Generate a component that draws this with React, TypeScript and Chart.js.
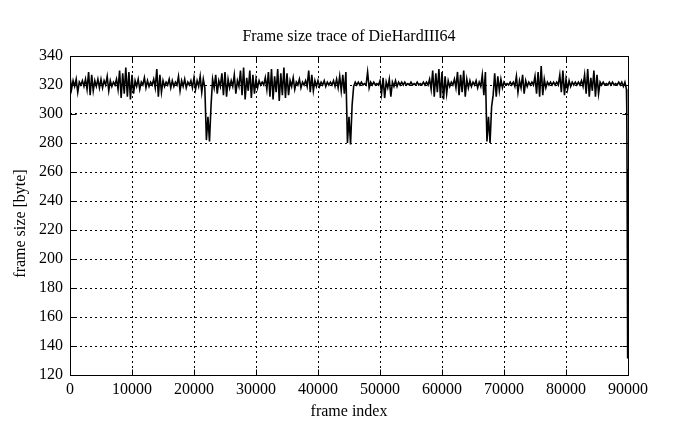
import React, { useEffect, useRef } from 'react';
import { Chart, registerables } from 'chart.js';

Chart.register(...registerables);

const chartTitle = 'Frame size trace of DieHardIII64';
const xAxisLabel = 'frame index';
const yAxisLabel = 'frame size [byte]';

const xTickValues = [0, 10000, 20000, 30000, 40000, 50000, 60000, 70000, 80000, 90000];
const yTickValues = [120, 140, 160, 180, 200, 220, 240, 260, 280, 300, 320, 340];

// frames per bin; each bin contributes a value at its start and one at its middle
const binSize = 500;

const sizeAtBinStart = [
  326, 323, 324, 322, 323, 324, 329, 327, 323, 324,
  324, 323, 326, 323, 322, 324, 330, 328, 332, 329,
  327, 323, 324, 322, 325, 323, 322, 324, 331, 327,
  323, 322, 324, 323, 322, 326, 323, 324, 322, 323,
  325, 323, 326, 324, 282, 281, 324, 327, 323, 328,
  329, 324, 323, 327, 323, 330, 332, 325, 330, 327,
  324, 323, 322, 325, 329, 331, 326, 331, 328, 332,
  328, 323, 325, 322, 324, 322, 323, 330, 327, 323,
  323, 322, 323, 322, 322, 323, 324, 326, 327, 329,
  298, 306, 322, 322, 322, 321, 329, 322, 322, 321,
  323, 325, 322, 324, 322, 323, 322, 322, 322, 321,
  322, 321, 322, 321, 322, 322, 324, 330, 328, 331,
  329, 326, 323, 322, 324, 329, 327, 330, 324, 323,
  322, 323, 322, 327, 329, 298, 305, 328, 326, 324,
  322, 321, 322, 322, 326, 323, 327, 323, 322, 322,
  326, 329, 333, 324, 322, 322, 322, 322, 327, 330,
  324, 323, 322, 322, 322, 323, 327, 331, 325, 330,
  327, 322, 322, 321, 322, 322, 321, 322, 322, 322,
];

const sizeAtBinMid = [
  317, 319, 315, 320, 319, 317, 313, 316, 319, 318,
  318, 320, 316, 319, 320, 317, 311, 314, 312, 310,
  314, 319, 317, 320, 318, 319, 320, 318, 312, 315,
  319, 320, 318, 319, 320, 316, 319, 318, 320, 318,
  317, 319, 315, 318, 298, 306, 318, 314, 319, 313,
  312, 318, 319, 314, 319, 313, 310, 316, 311, 314,
  318, 320, 320, 317, 312, 310, 315, 309, 313, 311,
  313, 319, 317, 320, 318, 320, 319, 315, 316, 319,
  319, 320, 319, 320, 320, 319, 318, 316, 314, 280,
  279, 319, 320, 320, 320, 320, 318, 320, 320, 320,
  314, 311, 318, 312, 319, 319, 320, 320, 320, 320,
  320, 320, 320, 320, 320, 320, 317, 312, 315, 311,
  310, 314, 319, 320, 318, 313, 315, 312, 318, 319,
  320, 318, 319, 313, 281, 280, 313, 312, 316, 318,
  320, 320, 320, 319, 315, 318, 314, 319, 320, 320,
  314, 312, 313, 318, 320, 320, 320, 320, 315, 313,
  317, 319, 320, 320, 320, 319, 314, 312, 316, 312,
  314, 320, 320, 320, 320, 320, 320, 320, 319, 317,
];

// the final frames of the trace, where the size drops sharply
const tailFrames = [89800, 89850, 89880, 89910, 89930, 89950, 89965, 89980, 89990, 90000];
const tailSizes = [305, 262, 200, 183, 132, 183, 132, 183, 132, 132];

const FONT = '"Liberation Serif", "Times New Roman", serif';

const framePlugin = {
  id: 'gnuplotFrame',
  afterDatasetsDraw(chart: any) {
    const { ctx, chartArea, scales } = chart;
    const { left, right, top, bottom } = chartArea;
    const xs = scales.x;
    const ys = scales.y;
    ctx.save();
    ctx.setLineDash([]);
    ctx.strokeStyle = '#000';
    ctx.lineWidth = 1;
    const l = Math.round(left) + 0.5;
    const r = Math.round(right) + 0.5;
    const t = Math.round(top) + 0.5;
    const b = Math.round(bottom) + 0.5;
    ctx.strokeRect(l, t, r - l, b - t);
    const len = 6;
    ctx.beginPath();
    xTickValues.forEach((v) => {
      const px = Math.round(xs.getPixelForValue(v)) + 0.5;
      ctx.moveTo(px, b);
      ctx.lineTo(px, b - len);
      ctx.moveTo(px, t);
      ctx.lineTo(px, t + len);
    });
    yTickValues.forEach((v) => {
      const py = Math.round(ys.getPixelForValue(v)) + 0.5;
      ctx.moveTo(l, py);
      ctx.lineTo(l + len, py);
      ctx.moveTo(r, py);
      ctx.lineTo(r - len, py);
    });
    ctx.stroke();
    ctx.fillStyle = '#000';
    ctx.font = '16px ' + FONT;
    ctx.textAlign = 'center';
    ctx.textBaseline = 'middle';
    ctx.translate(21, (top + bottom) / 2 + 8);
    ctx.rotate(-Math.PI / 2);
    ctx.fillText(yAxisLabel, 0, 0);
    ctx.restore();
  },
};

export default function App() {
  const ref = useRef<HTMLCanvasElement>(null);

  useEffect(() => {
    if (!ref.current) return;
    const points: { x: number; y: number }[] = [];
    sizeAtBinStart.forEach((v, i) => {
      points.push({ x: i * binSize, y: v });
      points.push({ x: i * binSize + binSize / 2, y: sizeAtBinMid[i] });
    });
    tailFrames.forEach((f, i) => points.push({ x: f, y: tailSizes[i] }));

    const tickFont = { family: FONT, size: 16, weight: 'normal' as const };

    const chart = new Chart(ref.current, {
      type: 'line',
      data: {
        datasets: [
          {
            data: points,
            borderColor: '#000',
            borderWidth: 1.6,
            pointRadius: 0,
            tension: 0,
            fill: false,
          },
        ],
      },
      options: {
        animation: false,
        responsive: false,
        devicePixelRatio: 1,
        parsing: false,
        layout: { padding: { left: 0, right: 67, top: 0, bottom: 0 } },
        plugins: {
          legend: { display: false },
          tooltip: { enabled: false },
          title: {
            display: true,
            text: chartTitle,
            color: '#000',
            fullSize: false,
            font: { family: FONT, size: 16, weight: 'normal', lineHeight: 1.25 },
            padding: { top: 27, bottom: 9 },
          },
        },
        scales: {
          x: {
            type: 'linear',
            min: xTickValues[0],
            max: xTickValues[xTickValues.length - 1],
            afterBuildTicks: (scale: any) => {
              scale.ticks = xTickValues.map((v) => ({ value: v }));
            },
            afterFit: (scale: any) => {
              scale.height = 54;
            },
            ticks: {
              color: '#000',
              font: tickFont,
              padding: 5,
              maxRotation: 0,
              autoSkip: false,
              callback: (v: any) => String(v),
            },
            grid: { color: '#000', lineWidth: 1, drawTicks: false },
            border: { display: false, dash: [2, 3] },
            title: {
              display: true,
              text: xAxisLabel,
              color: '#000',
              font: { family: FONT, size: 16, weight: 'normal' },
              padding: { top: 0, bottom: 8 },
            },
          },
          y: {
            type: 'linear',
            min: yTickValues[0],
            max: yTickValues[yTickValues.length - 1],
            afterBuildTicks: (scale: any) => {
              scale.ticks = yTickValues.map((v) => ({ value: v }));
            },
            afterFit: (scale: any) => {
              scale.width = 70;
            },
            ticks: {
              color: '#000',
              font: tickFont,
              padding: 7,
              autoSkip: false,
              callback: (v: any) => String(v),
            },
            grid: { color: '#000', lineWidth: 1, drawTicks: false },
            border: { display: false, dash: [2, 3] },
          },
        },
      },
      plugins: [framePlugin],
    } as any);

    return () => chart.destroy();
  }, []);

  return (
    <div style={{ position: 'absolute', left: 0, top: 0, width: 695, height: 429, background: '#fff' }}>
      <canvas ref={ref} width={695} height={429} style={{ display: 'block' }} />
    </div>
  );
}
